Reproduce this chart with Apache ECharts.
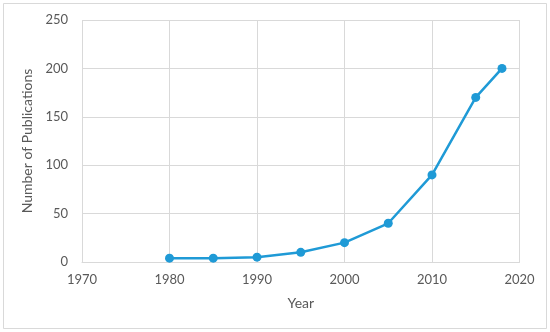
<!DOCTYPE html>
<html><head><meta charset="utf-8">
<script src="https://cdn.jsdelivr.net/npm/echarts@6/dist/echarts.min.js"></script>
<style>html,body{margin:0;padding:0;background:#fff}#c{width:550px;height:332px}</style>
</head><body><div id="c"></div>
<script>
var years = [1980, 1985, 1990, 1995, 2000, 2005, 2010, 2015, 2018];
var publications = [4, 4, 5, 10, 20, 40, 90, 170, 200];
var xTitle = 'Year';
var yTitle = 'Number of Publications';

var chart = echarts.init(document.getElementById('c'), null, {renderer: 'canvas'});
var font = 'Lato, "Open Sans", sans-serif';
chart.setOption({
  animation: false,
  backgroundColor: '#fff',
  graphic: [{type: 'rect', shape: {x: 3.5, y: 3.5, width: 543, height: 325}, style: {fill: 'none', stroke: '#d9d9d9', lineWidth: 1}, silent: true}],
  grid: {left: 82, right: 30.5, top: 20, bottom: 70, containLabel: false},
  xAxis: {
    type: 'value', min: 1970, max: 2020, interval: 10,
    name: xTitle, nameLocation: 'middle', nameGap: 34,
    nameTextStyle: {color: '#595959', fontSize: 14, fontFamily: font},
    axisLine: {show: true, lineStyle: {color: '#d9d9d9', width: 1}},
    axisTick: {show: false},
    axisLabel: {color: '#595959', fontSize: 13, fontFamily: font, margin: 11,
      formatter: function (v) { return String(v); }},
    splitLine: {show: true, lineStyle: {color: '#d9d9d9', width: 1}}
  },
  yAxis: {
    type: 'value', min: 0, max: 250, interval: 50,
    name: yTitle, nameLocation: 'middle', nameGap: 40,
    nameTextStyle: {color: '#595959', fontSize: 14, fontFamily: font},
    axisLine: {show: false}, axisTick: {show: false},
    axisLabel: {color: '#595959', fontSize: 13, fontFamily: font, margin: 14},
    splitLine: {show: true, lineStyle: {color: '#d9d9d9', width: 1}}
  },
  series: [{
    type: 'line',
    data: years.map(function (y, i) { return [y, publications[i]]; }),
    symbol: 'circle', symbolSize: 9,
    lineStyle: {color: '#1f9ad6', width: 2.5},
    itemStyle: {color: '#1f9ad6'}
  }]
});
</script></body></html>
